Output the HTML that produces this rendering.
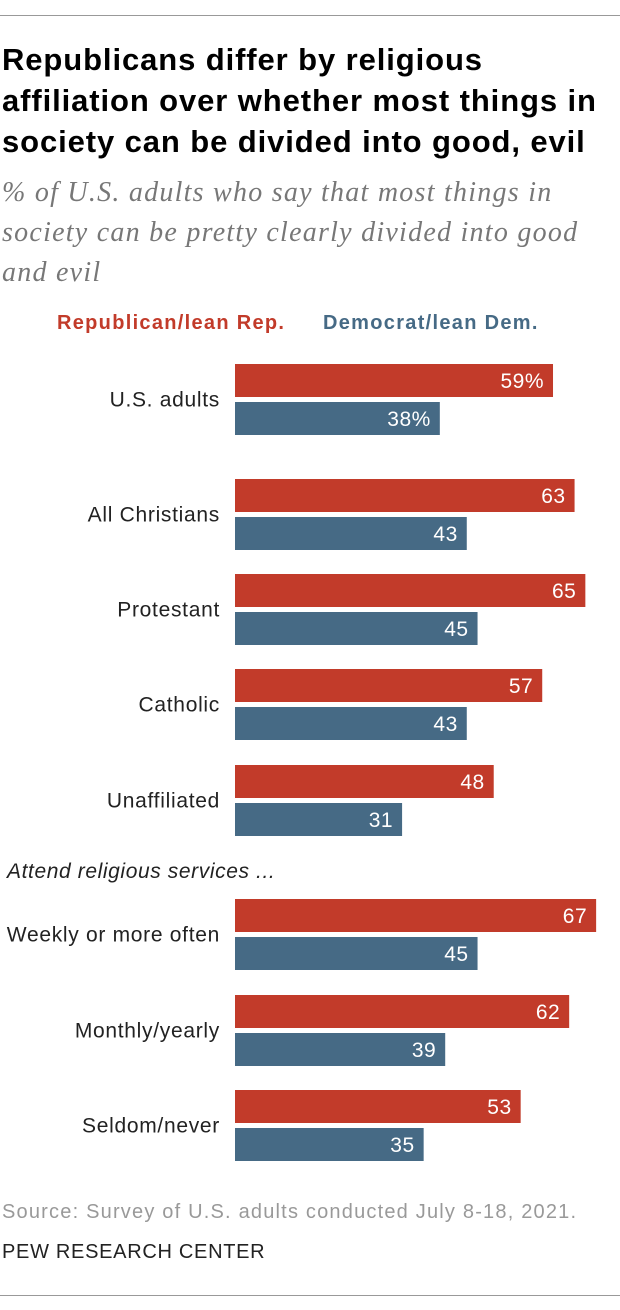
<!DOCTYPE html>
<html><head><meta charset="utf-8"><style>
body{margin:0;width:620px;height:1310px;background:#fff;position:relative;font-family:"Liberation Sans",sans-serif;overflow:hidden}
.abs{position:absolute;white-space:nowrap}
.rule{position:absolute;left:0;width:620px;height:1px;background:#999}
</style></head><body>
<div class="rule" style="top:15px"></div>
<div class="abs" style="left:2px;top:39px;font-size:31px;font-weight:bold;line-height:41px;color:#000;letter-spacing:0.9px">Republicans differ by religious<br>affiliation over whether most things in<br>society can be divided into good, evil</div>
<div class="abs" style="left:2px;top:173px;font-family:'Liberation Serif',serif;font-style:italic;font-size:28px;line-height:40px;color:#777;letter-spacing:1.25px">% of U.S. adults who say that most things in<br>society can be pretty clearly divided into good<br>and evil</div>
<div class="abs" style="left:57px;top:312px;font-size:20px;font-weight:bold;color:#C23B2A;letter-spacing:1.3px">Republican/lean Rep.</div>
<div class="abs" style="left:323px;top:312px;font-size:20px;font-weight:bold;color:#466A85;letter-spacing:1.3px">Democrat/lean Dem.</div>
<div class="abs" style="left:7px;top:860px;font-size:21px;font-style:italic;color:#222;letter-spacing:0.6px">Attend religious services ...</div>
<svg id="chart" class="abs" style="left:0;top:0" width="620" height="1310"></svg>
<div class="abs" style="left:2px;top:1201px;font-size:20px;color:#999;letter-spacing:1.2px">Source: Survey of U.S. adults conducted July 8-18, 2021.</div>
<div class="abs" style="left:2px;top:1241px;font-size:20px;color:#222;letter-spacing:0.7px">PEW RESEARCH CENTER</div>
<div class="rule" style="top:1295px"></div>
<script>
const categories=["U.S. adults","All Christians","Protestant","Catholic","Unaffiliated","Weekly or more often","Monthly/yearly","Seldom/never"];
const repValues=[59,63,65,57,48,67,62,53];
const demValues=[38,43,45,43,31,45,39,35];
const rowTops=[364,479,574,669,765,899,995,1090];
const x0=235, scale=5.39, bh=33, gap=5;
const xs=v=>v*scale;
const svg=document.getElementById('chart');
const NS="http://www.w3.org/2000/svg";
function mk(t,a){const e=document.createElementNS(NS,t);for(const k in a)e.setAttribute(k,a[k]);svg.appendChild(e);return e;}
categories.forEach((c,i)=>{
  const y=rowTops[i];
  const lab=mk('text',{x:220,y:y+bh+gap/2+7,'text-anchor':'end','font-size':21,'letter-spacing':0.7,fill:'#222','font-family':'Liberation Sans, sans-serif'});
  lab.textContent=c;
  
  
  [[repValues[i],'#C23B2A',y,'bar-republican'],[demValues[i],'#466A85',y+bh+gap,'bar-democrat']].forEach(([v,col,yy,nm])=>{
    const r=mk('rect',{x:x0,y:yy,width:xs(v),height:bh,fill:col});
    
    
    const t=mk('text',{x:x0+xs(v)-9,y:yy+24,'text-anchor':'end','font-size':21,'letter-spacing':0.5,fill:'#fff','font-family':'Liberation Sans, sans-serif'});
    t.textContent=v+(i===0?'%':'');
    
    
  });
});
</script>
</body></html>
